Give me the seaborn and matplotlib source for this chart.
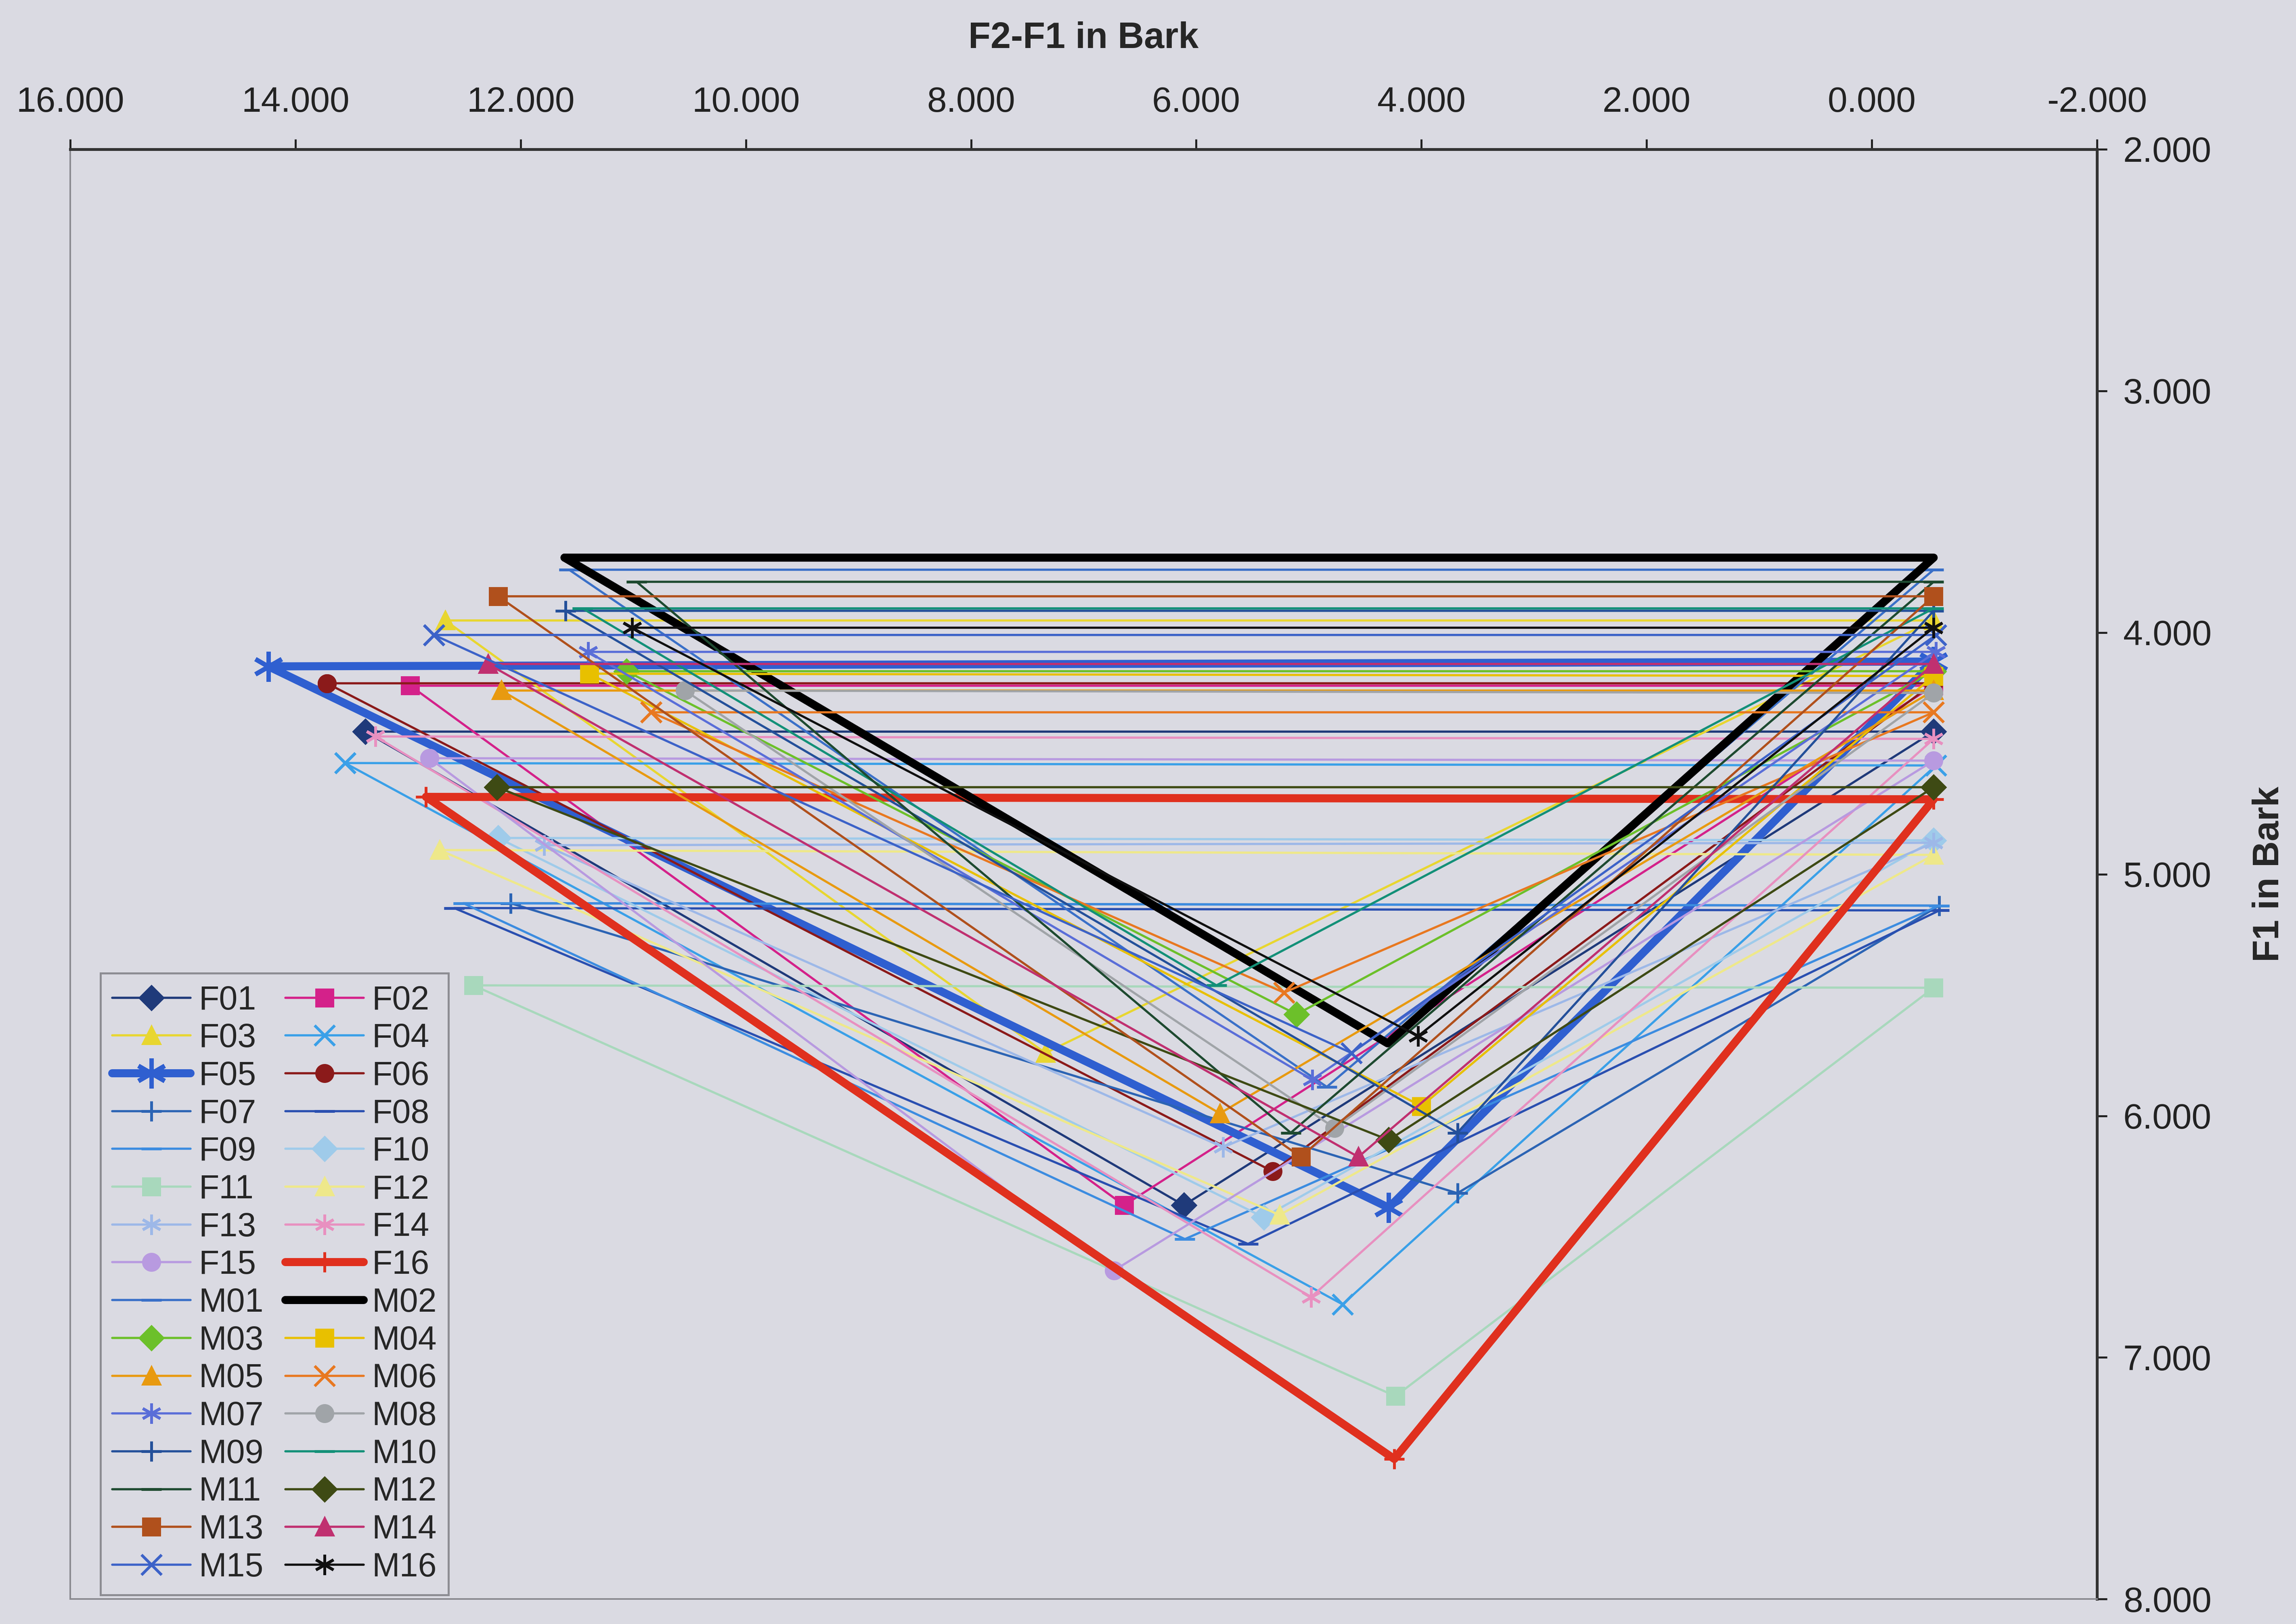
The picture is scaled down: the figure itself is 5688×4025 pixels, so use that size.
import numpy as np
import pandas as pd
import matplotlib
matplotlib.use("Agg")
import matplotlib.pyplot as plt
import seaborn as sns
from matplotlib.ticker import FuncFormatter

# speakers and vowel points (F2-F1 and F1, both in Bark)
speakers = ["F01", "F02", "F03", "F04", "F05", "F06", "F07", "F08",
            "F09", "F10", "F11", "F12", "F13", "F14", "F15", "F16",
            "M01", "M02", "M03", "M04", "M05", "M06", "M07", "M08",
            "M09", "M10", "M11", "M12", "M13", "M14", "M15", "M16"]

# /i/
i_x = [13.38, 12.98, 12.67, 13.56, 14.24, 13.72, 12.09, 12.59,
       12.51, 12.20, 12.42, 12.72, 11.79, 13.29, 12.81, 12.84,
       11.57, 11.61, 11.06, 11.39, 12.17, 10.84, 11.40, 10.54,
       11.60, 11.45, 10.97, 12.21, 12.20, 12.29, 12.77, 11.01]
i_f1 = [4.41, 4.22, 3.95, 4.54, 4.14, 4.21, 5.12, 5.14,
        5.12, 4.85, 5.46, 4.90, 4.88, 4.43, 4.52, 4.68,
        3.74, 3.69, 4.16, 4.17, 4.24, 4.33, 4.08, 4.24,
        3.91, 3.90, 3.79, 4.64, 3.85, 4.13, 4.01, 3.98]

# /a/
a_x = [6.11, 6.64, 7.34, 4.70, 4.29, 5.32, 3.68, 5.54,
       6.10, 5.40, 4.23, 5.26, 5.76, 4.98, 6.73, 4.24,
       4.84, 4.30, 5.11, 4.00, 5.79, 5.22, 4.97, 4.77,
       3.68, 5.82, 5.16, 4.29, 5.07, 4.56, 4.62, 4.03]
a_f1 = [6.37, 6.37, 5.74, 6.78, 6.38, 6.23, 6.32, 6.53,
        6.51, 6.42, 7.16, 6.41, 6.13, 6.75, 6.64, 7.42,
        5.88, 5.70, 5.58, 5.96, 5.99, 5.49, 5.85, 6.05,
        6.07, 5.46, 6.07, 6.10, 6.17, 6.17, 5.74, 5.67]

# /u/
u_x = [-0.55, -0.55, -0.55, -0.57, -0.55, -0.55, -0.60, -0.60,
       -0.60, -0.55, -0.55, -0.55, -0.55, -0.55, -0.55, -0.55,
       -0.55, -0.55, -0.55, -0.55, -0.55, -0.55, -0.57, -0.55,
       -0.55, -0.55, -0.55, -0.55, -0.55, -0.55, -0.57, -0.55]
u_f1 = [4.41, 4.22, 3.95, 4.55, 4.12, 4.21, 5.13, 5.15,
        5.13, 4.86, 5.47, 4.92, 4.87, 4.44, 4.53, 4.69,
        3.74, 3.69, 4.16, 4.18, 4.24, 4.33, 4.08, 4.25,
        3.91, 3.90, 3.79, 4.64, 3.85, 4.13, 4.01, 3.98]

# Excel-like styling per speaker
colors = ["#1f3a7a", "#d4218a", "#e8d630", "#3aa0e8", "#2f5fd0", "#8b1a1a", "#2c64b4", "#2a4fb0",
          "#3c8ce0", "#9fcbea", "#a8d8bc", "#eee88a", "#9db8e8", "#e890c0", "#b89ae0", "#e0301e",
          "#3a70c8", "#000000", "#6cc02a", "#e8c000", "#e89a10", "#e87820", "#5a6ed8", "#a0a4a8",
          "#24509a", "#139078", "#1e4a30", "#3e4a14", "#b0501c", "#c03070", "#3c62c8", "#101010"]
star = (6, 2, 0)
markers = ["D", "s", "^", "x", star, "o", "+", "_",
           "_", "D", "s", "^", star, star, "o", "+",
           "_", "None", "D", "s", "^", "x", star, "o",
           "+", "_", "_", "D", "s", "^", "x", star]
widths = [1.1] * 32
widths[4] = 4.0   # F05
widths[15] = 4.0  # F16
widths[17] = 4.0  # M02

sns.set_theme(style="white")
plt.rcParams["font.family"] = ["Liberation Sans", "DejaVu Sans"]
plt.rcParams["axes.unicode_minus"] = False
bg = "#dadae2"

fig = plt.figure(figsize=(5688 / 360, 4025 / 360), dpi=360)
fig.patch.set_facecolor(bg)
ax = fig.add_axes([0.0306, 0.0153, 0.8827, 0.8928])
ax.set_facecolor(bg)

for k, name in enumerate(speakers):
    pts = pd.DataFrame({"x": [i_x[k], a_x[k], u_x[k], i_x[k]],
                        "y": [i_f1[k], a_f1[k], u_f1[k], i_f1[k]]})
    m = markers[k]
    open_m = m in ("x", "+", "_") or isinstance(m, tuple)
    ms = 8
    if open_m:
        ms = 10
    if k == 4:
        ms = 15
    sns.lineplot(data=pts, x="x", y="y", sort=False, estimator=None, ax=ax,
                 color=colors[k], linewidth=widths[k], marker=m,
                 markersize=ms, markeredgewidth=2.2 if k == 4 else 1.4,
                 markeredgecolor=colors[k], markerfacecolor=colors[k],
                 legend=False)

ax.set_xlim(16, -2)
ax.set_ylim(8, 2)
ax.set_xticks(np.arange(16, -2.1, -2))
ax.set_yticks(np.arange(2, 8.1, 1))
fmt = FuncFormatter(lambda v, pos: "%.3f" % v)
ax.xaxis.set_major_formatter(fmt)
ax.yaxis.set_major_formatter(fmt)
ax.xaxis.tick_top()
ax.xaxis.set_label_position("top")
ax.yaxis.tick_right()
ax.yaxis.set_label_position("right")
ax.tick_params(axis="x", direction="out", length=5, width=1, pad=10,
               labelsize=17.5, colors="#222222", top=True, bottom=False)
ax.tick_params(axis="y", direction="out", length=5, width=1, pad=8,
               labelsize=17.5, colors="#222222", right=True, left=False)
ax.set_xlabel("F2-F1 in Bark", fontsize=18, fontweight="bold", labelpad=19)
ax.set_ylabel("F1 in Bark", fontsize=18, fontweight="bold", labelpad=20)

for side in ("top", "right"):
    ax.spines[side].set_color("#333333")
    ax.spines[side].set_linewidth(1.4)
for side in ("left", "bottom"):
    ax.spines[side].set_color("#8a8a90")
    ax.spines[side].set_linewidth(0.8)

# legend filled row by row like the spreadsheet
handles = ax.get_lines()[:32]
order = list(range(0, 32, 2)) + list(range(1, 32, 2))
leg = ax.legend([handles[j] for j in order], [speakers[j] for j in order],
                ncol=2, loc="lower left", bbox_to_anchor=(0.015, 0.003),
                fontsize=16.5, handlelength=2.35, handletextpad=0.25,
                columnspacing=0.65, labelspacing=0.19, borderpad=0.35,
                borderaxespad=0, frameon=True, fancybox=False)
leg.get_frame().set_facecolor(bg)
leg.get_frame().set_edgecolor("#7a7a80")
leg.get_frame().set_linewidth(1.0)

fig.savefig("out.png", dpi=360, facecolor=bg)
